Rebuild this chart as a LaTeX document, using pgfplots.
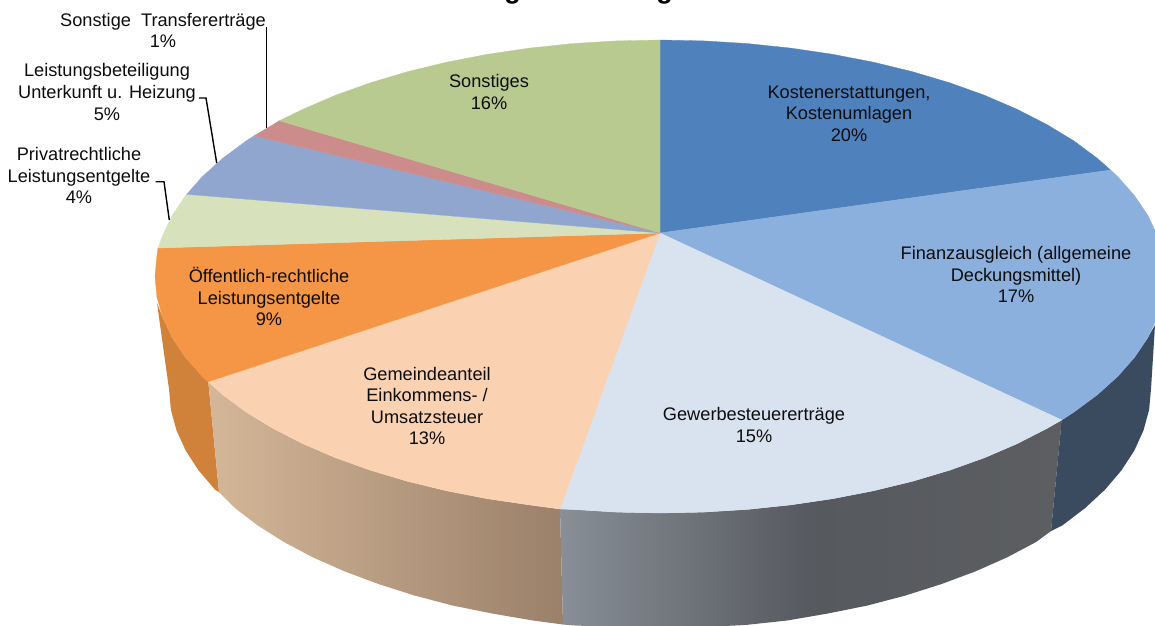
\documentclass[border=0pt]{standalone}
\usepackage{pgfplots}
\pgfplotsset{compat=1.18}
\usepackage{fontspec}
\setmainfont{Liberation Sans}
\definecolor{cKost}{RGB}{79,129,189}
\definecolor{cFin}{RGB}{139,176,222}
\definecolor{cGew}{RGB}{217,226,239}
\definecolor{cGem}{RGB}{250,210,178}
\definecolor{cOef}{RGB}{245,150,70}
\definecolor{cPri}{RGB}{215,226,188}
\definecolor{cLei}{RGB}{145,166,207}
\definecolor{cTra}{RGB}{205,140,140}
\definecolor{cSon}{RGB}{185,202,145}
\definecolor{wOef}{RGB}{208,129,58}
\definecolor{wFin}{RGB}{58,74,95}
\definecolor{wGemL}{RGB}{212,183,152}
\definecolor{wGemR}{RGB}{155,128,106}
\definecolor{wGewL}{RGB}{136,143,151}
\definecolor{wGewM}{RGB}{86,89,94}
\definecolor{wGewR}{RGB}{92,94,97}
\tikzset{lab/.style={font=\fontsize{18.2}{21.6}\selectfont, align=center, text=black!95, inner sep=0pt},
  ttl/.style={anchor=base, font=\fontsize{27}{27}\selectfont\bfseries, text=black}}
\begin{document}
\begin{tikzpicture}
\path[use as bounding box] (0,0) rectangle (1155pt,625pt);
\begin{axis}[
  at={(0,0)}, anchor=south west,
  scale only axis, width=1155pt, height=625pt,
  xmin=0, xmax=1155, ymin=0, ymax=625, y dir=reverse,
  axis lines=none, ticks=none,
]
% side walls
\addplot[fill=wOef, draw=none] coordinates {(157,303)(162.7,317.6)(172.2,337.7)(185.5,357.4)(202.3,376.4)(208.3,381.7)(219,492)(215,489.6)(198.6,470.4)(185.7,450.6)(176.5,430.3)(170.9,409.7)(169,389)} --cycle;
\addplot[draw=none, left color=wGemL, right color=wGemR] coordinates {(208.3,381.7)(222.7,394.8)(246.3,412.2)(273.2,428.5)(302.9,443.7)(335.4,457.7)(370.3,470.2)(407.5,481.3)(446.6,490.8)(487.3,498.7)(529.3,504.9)(560,509)(563,624.5)(532.9,620.5)(492.1,613.5)(452.5,605.5)(414.5,595.5)(378.4,584)(344.4,571.3)(312.8,557.3)(283.9,542)(257.8,525.5)(234.8,508)(219,492)} --cycle;
\addplot[draw=none, left color=wGewL, right color=wGewR, middle color=wGewM] coordinates {(560,509)(572.3,509.4)(616,512.1)(660,513)(704,512.1)(747.7,509.4)(790.7,504.9)(832.7,498.7)(873.4,490.8)(912.5,481.3)(949.7,470.2)(984.6,457.7)(1017.1,443.7)(1046.8,428.5)(1061.7,420)(1051,531)(1036.1,542)(1007.2,557.3)(975.6,571.3)(941.6,584)(905.5,595.5)(867.5,605.5)(827.9,613.5)(787.1,620.5)(745.3,625)(702.8,627)(660,628)(617.2,627)(574.7,625.5)(563,624.5)} --cycle;
\addplot[fill=wFin, draw=none] coordinates {(1061.7,420)(1073.7,412.2)(1097.3,394.8)(1117.7,376.4)(1134.5,357.4)(1147.8,337.7)(1155,325)(1151,389)(1149.1,409.7)(1143.5,430.3)(1134.3,450.6)(1121.4,470.4)(1105,489.6)(1085.2,508)(1062.2,525.5)(1051,531)} --cycle;
% top face: Kostenerstattungen, Kostenumlagen 20
\addplot[fill=cKost, draw=cKost, line width=0.3pt] coordinates {(660,233)(660,40)(704,40.9)(747.7,43.6)(790.7,48.1)(832.7,54.3)(873.4,62.2)(912.5,71.7)(949.7,82.8)(984.6,95.3)(1017.1,109.3)(1046.8,124.5)(1073.7,140.8)(1097.3,158.3)(1110.5,170)} --cycle;
% Finanzausgleich 17
\addplot[fill=cFin, draw=cFin, line width=0.3pt] coordinates {(660,233)(1110.5,170)(1117.7,176.6)(1134.5,195.6)(1147.8,215.3)(1157.3,235.4)(1163.1,255.9)(1165,276.5)(1163.1,297.1)(1157.3,317.6)(1147.8,337.7)(1134.5,357.4)(1117.7,376.4)(1097.3,394.8)(1073.7,412.2)(1061.7,420)} --cycle;
% Gewerbesteuererträge 15
\addplot[fill=cGew, draw=cGew, line width=0.3pt] coordinates {(660,233)(1061.7,420)(1046.8,428.5)(1017.1,443.7)(984.6,457.7)(949.7,470.2)(912.5,481.3)(873.4,490.8)(832.7,498.7)(790.7,504.9)(747.7,509.4)(704,512.1)(660,513)(616,512.1)(572.3,509.4)(560,509)} --cycle;
% Gemeindeanteil 13
\addplot[fill=cGem, draw=cGem, line width=0.3pt] coordinates {(660,233)(560,509)(529.3,504.9)(487.3,498.7)(446.6,490.8)(407.5,481.3)(370.3,470.2)(335.4,457.7)(302.9,443.7)(273.2,428.5)(246.3,412.2)(222.7,394.8)(208.3,381.7)} --cycle;
% Öffentlich-rechtliche Leistungsentgelte 9
\addplot[fill=cOef, draw=cOef, line width=0.3pt] coordinates {(660,233)(208.3,381.7)(202.3,376.4)(185.5,357.4)(172.2,337.7)(162.7,317.6)(156.9,297.1)(155,276.5)(156.9,255.9)(158,248)} --cycle;
% Privatrechtliche Leistungsentgelte 4
\addplot[fill=cPri, draw=cPri, line width=0.3pt] coordinates {(660,233)(158,248)(162.7,235.4)(172.2,215.3)(185.5,195.6)(186.7,194.3)} --cycle;
% Leistungsbeteiligung 5
\addplot[fill=cLei, draw=cLei, line width=0.3pt] coordinates {(660,233)(186.7,194.3)(202.3,176.6)(222.7,158.3)(246.3,140.8)(254.3,135.7)} --cycle;
% Sonstige Transfererträge 1
\addplot[fill=cTra, draw=cTra, line width=0.3pt] coordinates {(660,233)(254.3,135.7)(273.2,124.5)(279.3,120.7)} --cycle;
% Sonstiges 16
\addplot[fill=cSon, draw=cSon, line width=0.3pt] coordinates {(660,233)(279.3,120.7)(302.9,109.3)(335.4,95.3)(370.3,82.8)(407.5,71.7)(446.6,62.2)(487.3,54.3)(529.3,48.1)(572.3,43.6)(616,40.9)(660,40)} --cycle;
% leader lines
\addplot[black, line width=1.4pt] coordinates {(266.7,27)(266.7,128)};
\addplot[black, line width=1.4pt] coordinates {(199,98)(206,98)(216.7,163)};
\addplot[black, line width=1.4pt] coordinates {(155.7,181.7)(164,181.7)(169.3,220)};
% labels
\node[lab] at (axis cs:849,113.5) {Kostenerstattungen,\\Kostenumlagen\\20\%};
\node[lab] at (axis cs:1016,274.5) {Finanzausgleich (allgemeine\\Deckungsmittel)\\17\%};
\node[lab] at (axis cs:754,425) {Gewerbesteuererträge\\15\%};
\node[lab] at (axis cs:427,406) {Gemeindeanteil\\Einkommens- /\\Umsatzsteuer\\13\%};
\node[lab] at (axis cs:269,296.5) {Öffentlich-rechtliche\\Leistungsentgelte\\9\%};
\node[lab] at (axis cs:79,175.5) {Privatrechtliche\\Leistungsentgelte\\4\%};
\node[lab] at (axis cs:107,92) {Leistungsbeteiligung\\Unterkunft u. Heizung\\5\%};
\node[lab] at (axis cs:163,30.5) {Sonstige\hspace{5pt} Transfererträge\\1\%};
\node[lab] at (axis cs:489,92) {Sonstiges\\16\%};
% the title is cut off by the top edge: only two descenders show
\node[ttl] at (axis cs:512.5,-2) {g};
\node[ttl] at (axis cs:664.5,-2) {g};
\end{axis}
\end{tikzpicture}
\end{document}
